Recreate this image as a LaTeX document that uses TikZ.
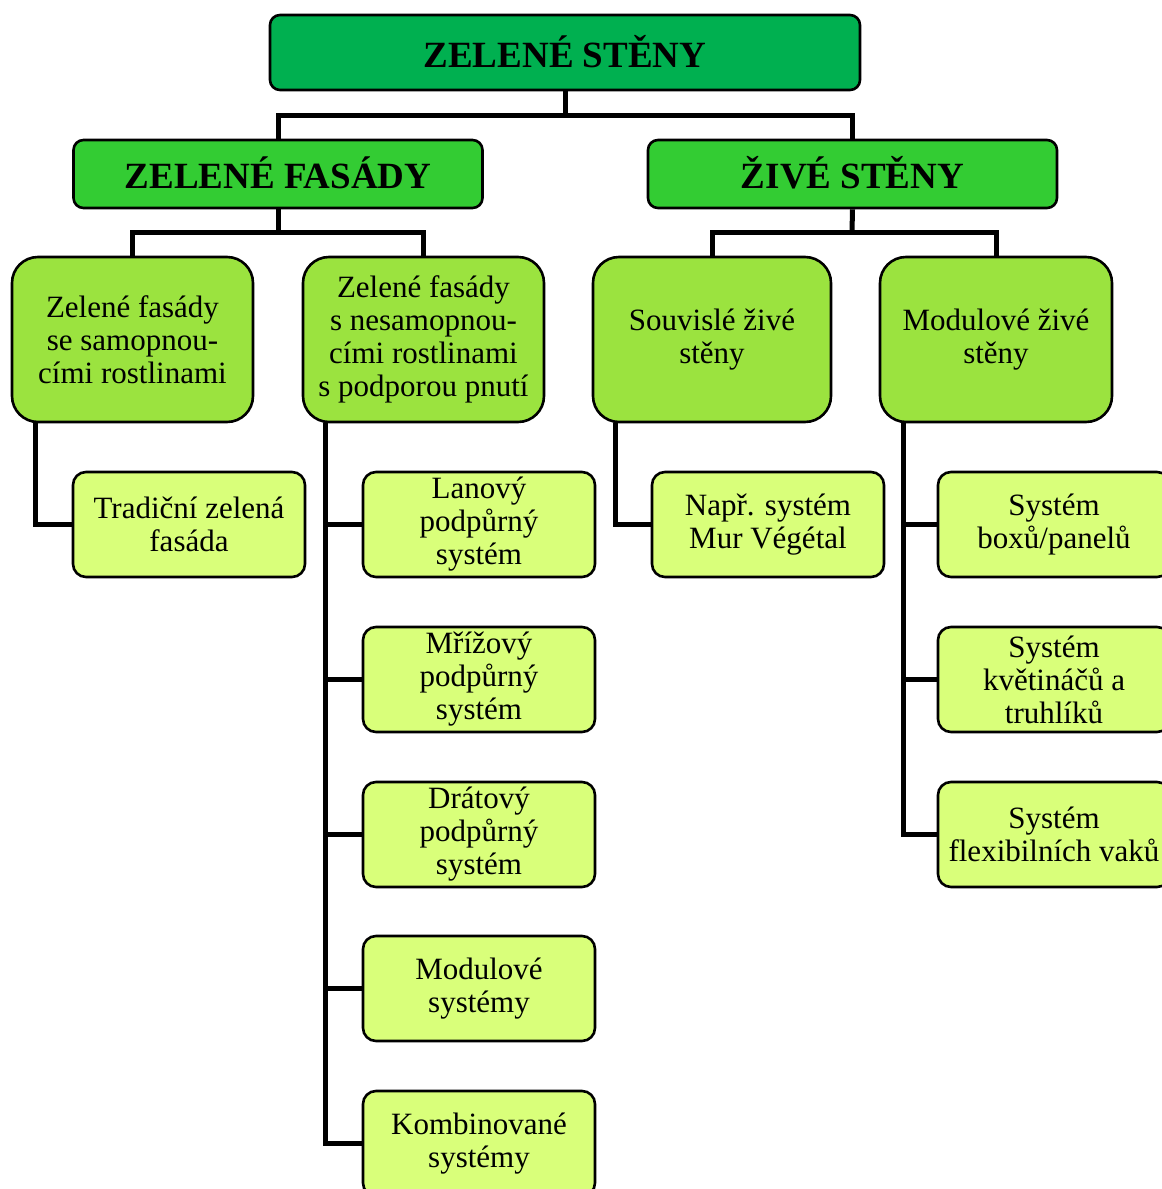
\documentclass[tikz,border=0pt]{standalone}
\usepackage{fontspec}
\setmainfont{Liberation Serif}
\definecolor{cRoot}{HTML}{00B050}
\definecolor{cLevA}{HTML}{33CC33}
\definecolor{cLevB}{HTML}{9BE33F}
\definecolor{cLevC}{HTML}{D9FF7A}
\tikzset{
  boxbase/.style={draw=black, line width=2.6pt, inner sep=0pt, align=center, text=black},
  rootbox/.style={boxbase, fill=cRoot, rounded corners=10pt, minimum width=590pt, minimum height=75pt, font=\fontsize{37}{40}\selectfont\bfseries},
  headbox/.style={boxbase, fill=cLevA, rounded corners=10pt, minimum width=409pt, minimum height=68pt, font=\fontsize{37}{40}\selectfont\bfseries},
  midbox/.style={boxbase, fill=cLevB, rounded corners=26pt, minimum height=165pt, font=\fontsize{31}{33}\selectfont},
  leafbox/.style={boxbase, fill=cLevC, rounded corners=13pt, minimum width=232pt, minimum height=105pt, font=\fontsize{31}{33}\selectfont},
  link/.style={draw=black, line width=5pt}
}
\begin{document}
\begin{tikzpicture}[x=1pt,y=-1pt]
\useasboundingbox (0,0) rectangle (1162,1189);
\clip (0,0) rectangle (1162,1189);
\fill[white] (0,0) rectangle (1162,1189);

\coordinate (j0) at (565,115);
\coordinate (j1) at (278,232);
\coordinate (j2) at (852,232);

\node[rootbox] (root) at (565,52.5) {\raisebox{3pt}{ZELENÉ STĚNY}};
\node[headbox] (zf) at (278,174) {\raisebox{3pt}{ZELENÉ FASÁDY}};
\node[headbox] (zs) at (852.5,174) {\raisebox{3pt}{ŽIVÉ STĚNY}};

\node[midbox, minimum width=241pt] (A) at (132.5,339.5) {Zelené fasády\\se samopnou-\\cími rostlinami};
\node[midbox, minimum width=241pt] (B) at (423.5,339.5) {Zelené fasády\\s nesamopnou-\\cími rostlinami\\s podporou pnutí};
\node[midbox, minimum width=238pt] (C) at (712,339.5) {Souvislé živé\\stěny};
\node[midbox, minimum width=232pt] (D) at (996,339.5) {Modulové živé\\stěny};

\node[leafbox] (T) at (189,524.5) {Tradiční zelená\\fasáda};

\node[leafbox] (B1) at (479,524.5) {Lanový\\podpůrný\\systém};
\node[leafbox] (B2) at (479,679.5) {Mřížový\\podpůrný\\systém};
\node[leafbox] (B3) at (479,834.5) {Drátový\\podpůrný\\systém};
\node[leafbox] (B4) at (479,988.5) {Modulové\\systémy};
\node[leafbox] (B5) at (479,1143.5) {Kombinované\\systémy};

\node[leafbox] (C1) at (768,524.5) {Např. systém\\Mur Végétal};

\node[leafbox] (D1) at (1054,524.5) {Systém\\boxů/panelů};
\node[leafbox] (D2) at (1054,679.5) {Systém\\květináčů a\\truhlíků};
\node[leafbox] (D3) at (1054,834.5) {Systém\\flexibilních vaků};

% tree links
\draw[link] (root.south) -- (j0);
\draw[link] (zf.north) |- (j0) -| (zs.north);
\draw[link] (zf.south) -- (j1);
\draw[link] (A.north) |- (j1) -| (B.north);
\draw[link] (zs.south) -- (j2);
\draw[link] (C.north) |- (j2) -| (D.north);

\draw[link] ([xshift=25pt]A.south west) |- (T.west);
\draw[link] ([xshift=24pt]B.south west) |- (B5.west);
\draw[link] ([xshift=24pt]B.south west |- B1.west) -- (B1.west);
\draw[link] ([xshift=24pt]B.south west |- B2.west) -- (B2.west);
\draw[link] ([xshift=24pt]B.south west |- B3.west) -- (B3.west);
\draw[link] ([xshift=24pt]B.south west |- B4.west) -- (B4.west);
\draw[link] ([xshift=24pt]C.south west) |- (C1.west);
\draw[link] ([xshift=25pt]D.south west) |- (D3.west);
\draw[link] ([xshift=25pt]D.south west |- D1.west) -- (D1.west);
\draw[link] ([xshift=25pt]D.south west |- D2.west) -- (D2.west);
\end{tikzpicture}
\end{document}
